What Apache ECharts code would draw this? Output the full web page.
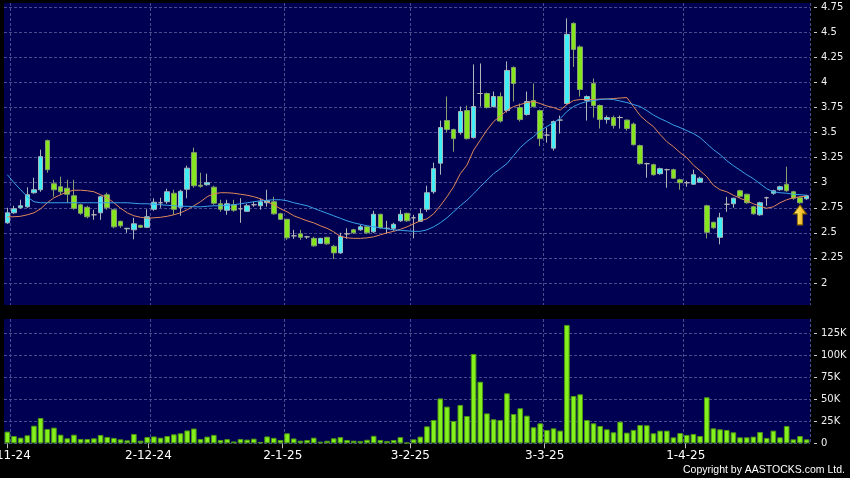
<!DOCTYPE html>
<html><head><meta charset="utf-8">
<script src="https://cdn.jsdelivr.net/npm/echarts@6/dist/echarts.min.js"></script>
<style>html,body{margin:0;padding:0;background:#000;}#c{width:850px;height:478px;}</style>
</head><body><div id="c"></div>
<script>
// trading days, d-m-yy
const dates = [
'31-10-24',
'1-11-24','4-11-24','5-11-24','6-11-24','7-11-24','8-11-24','11-11-24','12-11-24','13-11-24','14-11-24','15-11-24',
'18-11-24','19-11-24','20-11-24','21-11-24','22-11-24','25-11-24','26-11-24','27-11-24','28-11-24','29-11-24',
'2-12-24','3-12-24','4-12-24','5-12-24','6-12-24','9-12-24','10-12-24','11-12-24','12-12-24','13-12-24',
'16-12-24','17-12-24','18-12-24','19-12-24','20-12-24','23-12-24','24-12-24','27-12-24','30-12-24','31-12-24',
'2-1-25','3-1-25','6-1-25','7-1-25','8-1-25','9-1-25','10-1-25','13-1-25','14-1-25','15-1-25','16-1-25','17-1-25',
'20-1-25','21-1-25','22-1-25','23-1-25','24-1-25','27-1-25','28-1-25',
'3-2-25','4-2-25','5-2-25','6-2-25','7-2-25','10-2-25','11-2-25','12-2-25','13-2-25','14-2-25',
'17-2-25','18-2-25','19-2-25','20-2-25','21-2-25','24-2-25','25-2-25','26-2-25','27-2-25','28-2-25',
'3-3-25','4-3-25','5-3-25','6-3-25','7-3-25','10-3-25','11-3-25','12-3-25','13-3-25','14-3-25',
'17-3-25','18-3-25','19-3-25','20-3-25','21-3-25','24-3-25','25-3-25','26-3-25','27-3-25','28-3-25','31-3-25',
'1-4-25','2-4-25','3-4-25','7-4-25','8-4-25','9-4-25','10-4-25','11-4-25','14-4-25','15-4-25','16-4-25','17-4-25',
'22-4-25','23-4-25','24-4-25','25-4-25','28-4-25','29-4-25','30-4-25'
];
const labelDates = ['1-11-24','2-12-24','2-1-25','3-2-25','3-3-25','1-4-25'];

const opens = [2.60,2.70,2.75,2.76,2.90,2.93,3.42,2.99,2.96,2.945,
2.87,2.78,2.755,2.68,2.70,2.88,2.73,2.615,2.54,2.53,
2.575,2.555,2.735,2.80,2.81,2.895,2.755,2.935,3.30,2.975,
2.98,2.955,2.79,2.725,2.78,2.74,2.715,2.78,2.77,2.80,
2.81,2.69,2.635,2.47,2.49,2.46,2.445,2.395,2.455,2.365,
2.30,2.49,2.53,2.53,2.56,2.51,2.685,2.545,2.545,2.62,
2.695,2.65,2.615,2.735,2.91,3.195,3.62,3.53,3.50,3.72,
3.45,3.89,3.89,3.76,3.86,3.72,4.15,3.75,3.68,3.82,
3.72,3.475,3.345,3.625,3.79,4.59,4.355,3.82,3.99,3.77,
3.63,3.65,3.65,3.625,3.585,3.37,3.19,3.18,3.09,3.13,
3.13,3.03,3.00,2.985,3.005,2.77,2.605,2.455,2.785,2.79,
2.92,2.885,2.76,2.68,2.85,2.895,2.93,2.985,2.91,2.85,
2.84];
const closes = [2.70,2.74,2.77,2.88,2.93,3.26,3.13,2.93,2.91,2.885,
2.745,2.695,2.66,2.68,2.86,2.75,2.56,2.57,2.545,2.59,
2.555,2.66,2.805,2.80,2.91,2.735,2.915,3.145,2.97,2.965,
3.00,2.795,2.735,2.79,2.725,2.74,2.77,2.78,2.81,2.82,
2.69,2.635,2.45,2.47,2.455,2.46,2.37,2.445,2.39,2.30,
2.465,2.49,2.50,2.56,2.50,2.685,2.55,2.545,2.585,2.685,
2.62,2.65,2.69,2.90,3.14,3.55,3.53,3.44,3.71,3.44,
3.76,3.89,3.75,3.86,3.615,4.12,3.99,3.63,3.81,3.76,
3.44,3.475,3.61,3.625,4.48,4.33,3.93,3.86,3.77,3.63,
3.65,3.57,3.65,3.54,3.38,3.19,3.19,3.08,3.14,3.13,
3.045,3.00,3.00,3.08,3.045,2.505,2.55,2.65,2.785,2.845,
2.865,2.80,2.69,2.80,2.85,2.92,2.96,2.92,2.845,2.80,
2.87];
const lows = [2.59,2.69,2.74,2.75,2.89,2.91,3.10,2.86,2.88,2.80,
2.73,2.68,2.645,2.63,2.63,2.73,2.545,2.55,2.50,2.435,
2.55,2.55,2.72,2.75,2.79,2.68,2.67,2.845,2.95,2.95,
2.97,2.78,2.71,2.68,2.71,2.60,2.71,2.76,2.73,2.76,
2.68,2.63,2.43,2.44,2.43,2.44,2.36,2.39,2.38,2.24,
2.29,2.44,2.49,2.52,2.49,2.50,2.545,2.49,2.52,2.61,
2.61,2.445,2.61,2.71,2.89,3.08,3.50,3.31,3.48,3.43,
3.44,3.76,3.74,3.75,3.60,3.70,3.81,3.61,3.67,3.75,
3.365,3.40,3.32,3.49,3.78,4.155,3.86,3.62,3.65,3.54,
3.59,3.54,3.54,3.52,3.37,3.18,3.05,3.07,3.08,2.95,
3.04,2.93,2.96,2.98,3.00,2.445,2.54,2.385,2.71,2.75,
2.85,2.79,2.68,2.67,2.77,2.88,2.92,2.91,2.83,2.79,
2.83];
const highs = [2.75,2.77,2.83,2.955,3.05,3.33,3.43,3.03,3.06,3.03,
3.03,2.79,2.77,2.73,2.87,2.90,2.74,2.62,2.55,2.65,
2.58,2.735,2.845,2.85,2.94,2.93,2.93,3.17,3.35,3.10,
3.09,2.97,2.83,2.83,2.83,2.845,2.79,2.81,2.84,2.93,
2.86,2.70,2.64,2.53,2.53,2.47,2.46,2.45,2.46,2.38,
2.50,2.545,2.54,2.58,2.565,2.72,2.69,2.62,2.60,2.73,
2.70,2.68,2.74,2.97,3.20,3.62,3.86,3.54,3.76,3.77,
4.18,4.19,3.90,3.91,3.90,4.21,4.16,3.79,3.91,3.99,
3.73,3.55,3.62,3.67,4.64,4.60,4.37,3.87,4.04,3.78,
3.67,3.67,3.67,3.63,3.60,3.38,3.20,3.19,3.15,3.14,
3.14,3.04,3.02,3.13,3.06,2.78,2.61,2.70,2.86,2.85,
2.93,2.89,2.77,2.81,2.86,2.93,2.97,3.16,2.92,2.86,
2.88];
const volumes = [13300,8300,6400,9100,20000,28800,16300,17800,9800,5700,
9800,4900,4900,5700,9500,7200,6100,4500,3400,10600,
3000,7200,7800,6400,8300,10200,11400,14600,16800,4900,
7600,9600,3800,4700,2100,4900,4200,5300,1500,7800,
6200,3800,11400,5500,3000,3800,6400,1900,2900,5700,
7000,3800,3000,2700,4000,8500,3800,2700,3800,7000,
700,4500,7600,19300,26500,51000,41700,25400,43600,31000,
101500,70000,34000,27300,26500,56800,33300,39800,31400,18200,
22700,15200,17000,14400,134500,53800,55700,26500,22700,19700,
15900,12500,24600,12100,15200,20800,20500,11400,14400,14400,
6800,11700,9500,10600,8300,52300,17000,15900,15200,12500,
6800,6800,7600,12900,6100,14400,6800,19700,4500,8300,
4500];
const maShort = [2.66,2.66,2.665,2.68,2.70,2.74,2.80,2.85,2.88,2.91,
2.925,2.925,2.92,2.91,2.88,2.85,2.80,2.745,2.70,2.67,
2.655,2.645,2.65,2.655,2.665,2.68,2.70,2.73,2.77,2.81,
2.86,2.89,2.90,2.90,2.895,2.885,2.875,2.86,2.84,2.81,
2.78,2.74,2.71,2.67,2.645,2.62,2.60,2.57,2.545,2.51,
2.465,2.45,2.445,2.445,2.45,2.46,2.48,2.50,2.515,2.535,
2.56,2.59,2.62,2.64,2.69,2.77,2.86,2.96,3.09,3.175,
3.325,3.425,3.525,3.61,3.665,3.72,3.76,3.78,3.80,3.81,
3.79,3.765,3.75,3.725,3.78,3.82,3.83,3.83,3.83,3.835,
3.835,3.84,3.845,3.85,3.76,3.67,3.61,3.56,3.48,3.41,
3.36,3.30,3.25,3.175,3.12,3.06,2.975,2.93,2.91,2.875,
2.845,2.82,2.79,2.765,2.745,2.76,2.80,2.83,2.85,2.86,
2.865];
const maLong = [3.08,3.00,2.93,2.86,2.81,2.80,2.80,2.80,2.80,2.80,
2.80,2.80,2.80,2.80,2.80,2.80,2.80,2.80,2.80,2.795,
2.79,2.79,2.785,2.78,2.775,2.77,2.765,2.765,2.76,2.76,
2.765,2.77,2.77,2.775,2.78,2.79,2.80,2.81,2.82,2.825,
2.83,2.83,2.82,2.80,2.785,2.77,2.745,2.72,2.695,2.67,
2.645,2.62,2.60,2.585,2.57,2.56,2.55,2.54,2.53,2.525,
2.52,2.515,2.515,2.53,2.56,2.60,2.65,2.71,2.77,2.825,
2.89,2.96,3.025,3.09,3.14,3.19,3.27,3.35,3.41,3.46,
3.52,3.56,3.60,3.64,3.71,3.76,3.79,3.81,3.82,3.83,
3.835,3.83,3.815,3.80,3.78,3.76,3.72,3.675,3.64,3.61,
3.575,3.55,3.52,3.49,3.45,3.39,3.33,3.28,3.22,3.17,
3.125,3.08,3.04,2.99,2.94,2.91,2.90,2.895,2.885,2.88,
2.875];
const priceTicks = [2,2.25,2.5,2.75,3,3.25,3.5,3.75,4,4.25,4.5,4.75];
const volumeTicks = [0,25000,50000,75000,100000,125000];
const arrowDate = '29-4-25';
const arrowPrice = 2.678;

const candles = dates.map((d, i) => [opens[i], closes[i], lows[i], highs[i]]);
const isLabel = (i, v) => labelDates.indexOf(v) >= 0;
const gridStyle = {color: '#4a4a8e', type: [3, 2], width: 1};
const axisFont = 'DejaVu Sans';

const chart = echarts.init(document.getElementById('c'), null, {renderer: 'canvas'});
chart.setOption({
  backgroundColor: '#000',
  animation: false,
  grid: [
    {left: 4, right: 40, top: 3, height: 302, show: true, backgroundColor: '#000052', borderWidth: 0,
     containLabel: false, outerBoundsMode: 'none'},
    {left: 4, right: 40, top: 319, height: 124.3, show: true, backgroundColor: '#000052', borderWidth: 0,
     containLabel: false, outerBoundsMode: 'none'}
  ],
  xAxis: [
    {type: 'category', gridIndex: 0, data: dates, boundaryGap: true,
     axisLine: {show: false}, axisTick: {show: false}, axisLabel: {show: false},
     splitLine: {show: true, interval: isLabel, lineStyle: gridStyle}},
    {type: 'category', gridIndex: 1, data: dates, boundaryGap: true,
     axisLine: {show: false}, axisTick: {show: false}, axisLabel: {show: false},
     splitLine: {show: true, interval: isLabel, lineStyle: gridStyle}},
    {type: 'category', gridIndex: 1, data: dates.slice(1), boundaryGap: true, position: 'bottom',
     axisLine: {show: false},
     axisTick: {show: true, alignWithLabel: true, interval: isLabel, length: 5, lineStyle: {color: '#bbbbbb'}},
     axisLabel: {show: true, interval: isLabel, color: '#ffffff', fontFamily: axisFont, fontSize: 12, margin: 7,
       hideOverlap: false},
     splitLine: {show: false}}
  ],
  yAxis: [
    {type: 'value', gridIndex: 0, position: 'right', min: 1.78, max: 4.793, offset: 4, scale: true,
     axisLine: {show: false},
     axisTick: {show: true, length: 3, customValues: priceTicks, lineStyle: {color: '#cccccc'}},
     axisLabel: {customValues: priceTicks, color: '#f0f0f0', fontFamily: axisFont, fontSize: 10, margin: 7},
     splitLine: {show: true, lineStyle: gridStyle}},
    {type: 'value', gridIndex: 1, position: 'right', min: 0, max: 141250, offset: 4,
     axisLine: {show: false},
     axisTick: {show: true, length: 3, customValues: volumeTicks, lineStyle: {color: '#cccccc'}},
     axisLabel: {customValues: volumeTicks, color: '#f0f0f0', fontFamily: axisFont, fontSize: 10, margin: 7,
       formatter: v => v === 0 ? '0' : (v / 1000) + 'K'},
     splitLine: {show: true, lineStyle: gridStyle}}
  ],
  series: [
    {type: 'candlestick', xAxisIndex: 0, yAxisIndex: 0, data: candles, barWidth: '76%',
     itemStyle: {color: '#40eef6', color0: '#86e61e', borderColor: '#a6b8bc', borderColor0: '#86a070',
       borderColorDoji: '#b4b4b4', borderWidth: 1},
     markPoint: {
       symbol: 'path://M6,0 L12,8 L8.5,8 L8.5,18 L3.5,18 L3.5,8 L0,8 Z',
       symbolSize: [13, 20],
       label: {show: false},
       itemStyle: {
         color: new echarts.graphic.LinearGradient(0, 0, 1, 0, [{offset: 0, color: '#fff47a'}, {offset: 1, color: '#e8a000'}]),
         borderColor: '#8a6400', borderWidth: 1
       },
       data: [{coord: [arrowDate, arrowPrice]}]
     }},
    {type: 'line', xAxisIndex: 0, yAxisIndex: 0, data: maShort, symbol: 'none',
     lineStyle: {color: '#e0885a', width: 1}},
    {type: 'line', xAxisIndex: 0, yAxisIndex: 0, data: maLong, symbol: 'none',
     lineStyle: {color: '#3aa2ea', width: 1}},
    {type: 'bar', xAxisIndex: 1, yAxisIndex: 1, data: volumes, barWidth: '84%',
     itemStyle: {color: '#84f01c', borderColor: '#4c9614', borderWidth: 1}}
  ],
  graphic: [
    {type: 'text', right: 5, top: 465,
     style: {text: 'Copyright by AASTOCKS.com Ltd.', fill: '#ffffff', font: '10.5px "Liberation Sans"'}}
  ]
});
</script>
</body></html>
